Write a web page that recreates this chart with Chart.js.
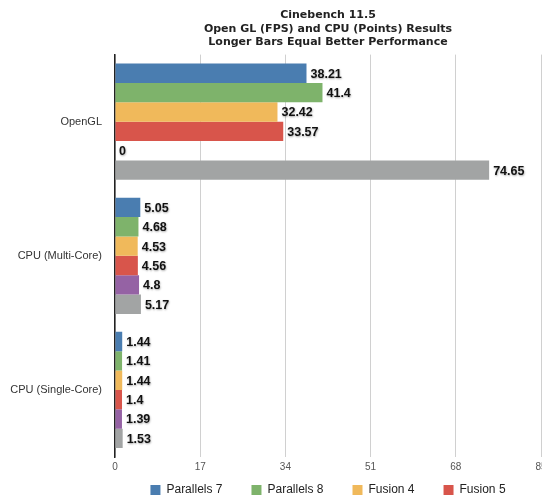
<!DOCTYPE html>
<html>
<head>
<meta charset="utf-8">
<script src="https://cdn.jsdelivr.net/npm/chart.js@4"></script>
<style>
    html, body { margin: 0; padding: 0; background: #fff; overflow: hidden; }
    #wrap { position: relative; width: 551px; height: 569px; }
</style>
</head>
<body>
<div id="wrap"><canvas id="myChart"></canvas></div>
<script>
const categories = ['OpenGL', 'CPU (Multi-Core)', 'CPU (Single-Core)'];
const seriesNames = ['Parallels 7', 'Parallels 8', 'Fusion 4', 'Fusion 5', 'VirtualBox 4.2', 'Boot Camp'];
const seriesColours = ['#4a7db0', '#7eb36b', '#f0b95b', '#d8554b', '#9562a4', '#a2a4a4'];

const parallels7 = [38.21, 5.05, 1.44];
const parallels8 = [41.4, 4.68, 1.41];
const fusion4 = [32.42, 4.53, 1.44];
const fusion5 = [33.57, 4.56, 1.4];
const virtualBox = [0, 4.8, 1.39];
const bootCamp = [74.65, 5.17, 1.53];

const xTicks = [0, 17, 34, 51, 68, 85];

const allValues = [parallels7, parallels8, fusion4, fusion5, virtualBox, bootCamp];

const datasets = [];
for (let i = 0; i < seriesNames.length; i++) {
    datasets.push({
        label: seriesNames[i],
        data: allValues[i],
        backgroundColor: seriesColours[i],
        borderWidth: 0,
        barPercentage: 1.0,
        categoryPercentage: 0.866
    });
}

// value labels at the end of each bar
const barLabels = {
    id: 'barLabels',
    afterDatasetsDraw(chart) {
        const ctx = chart.ctx;
        ctx.save();
        ctx.font = 'bold 12.5px "Liberation Sans", Arial, sans-serif';
        ctx.fillStyle = '#111';
        ctx.textAlign = 'left';
        ctx.textBaseline = 'middle';
        ctx.shadowColor = 'rgba(0, 0, 0, 0.35)';
        ctx.shadowBlur = 2;
        ctx.shadowOffsetX = 0.5;
        ctx.shadowOffsetY = 1;
        chart.data.datasets.forEach((ds, i) => {
            const meta = chart.getDatasetMeta(i);
            meta.data.forEach((bar, j) => {
                ctx.fillText(String(ds.data[j]), bar.x + 4, bar.y + 1);
            });
        });
        ctx.restore();
    }
};

// the legend sits tight under the axis labels, so pull it up over the x axis box
const legendUp = {
    id: 'legendUp',
    afterLayout(chart) {
        const shift = chart.scales.x.height + 2;
        chart.legend.top -= shift;
        chart.legend.bottom -= shift;
    }
};

const config = {
    type: 'bar',
    data: {
        labels: categories,
        datasets: datasets
    },
    options: {
        indexAxis: 'y',
        responsive: true,
        maintainAspectRatio: false,
        animation: false,
        layout: {
            padding: { left: 0, right: 10, top: 0, bottom: 0 }
        },
        scales: {
            x: {
                min: 0,
                max: 85,
                afterBuildTicks: (scale) => {
                    scale.ticks = xTicks.map(v => ({ value: v }));
                },
                grid: {
                    color: '#d0d0d0',
                    lineWidth: 1,
                    drawTicks: false
                },
                border: { display: false },
                ticks: {
                    padding: 4,
                    color: '#555',
                    font: { family: '"Liberation Sans", Arial, sans-serif', size: 10 }
                }
            },
            y: {
                afterFit: (scale) => {
                    scale.width = 115;
                },
                grid: { display: false, drawTicks: false },
                border: { display: true, color: '#222', width: 1.5 },
                ticks: {
                    padding: 13,
                    color: '#333',
                    font: { family: '"Liberation Sans", Arial, sans-serif', size: 11 }
                }
            }
        },
        plugins: {
            title: {
                display: true,
                fullSize: false,
                text: ['Cinebench 11.5', 'Open GL (FPS) and CPU (Points) Results', 'Longer Bars Equal Better Performance'],
                color: '#222',
                font: { family: '"DejaVu Sans", sans-serif', size: 11, weight: 'bold', lineHeight: 1.2 },
                padding: { top: 9, bottom: 6 }
            },
            legend: {
                position: 'bottom',
                fullSize: false,
                labels: {
                    boxWidth: 10,
                    boxHeight: 10,
                    padding: 29,
                    color: '#222',
                    font: { family: '"Liberation Sans", Arial, sans-serif', size: 12 }
                }
            },
            tooltip: { enabled: false }
        }
    },
    plugins: [barLabels, legendUp]
};

const myChart = new Chart(
    document.getElementById('myChart'),
    config
);
</script>
</body>
</html>
